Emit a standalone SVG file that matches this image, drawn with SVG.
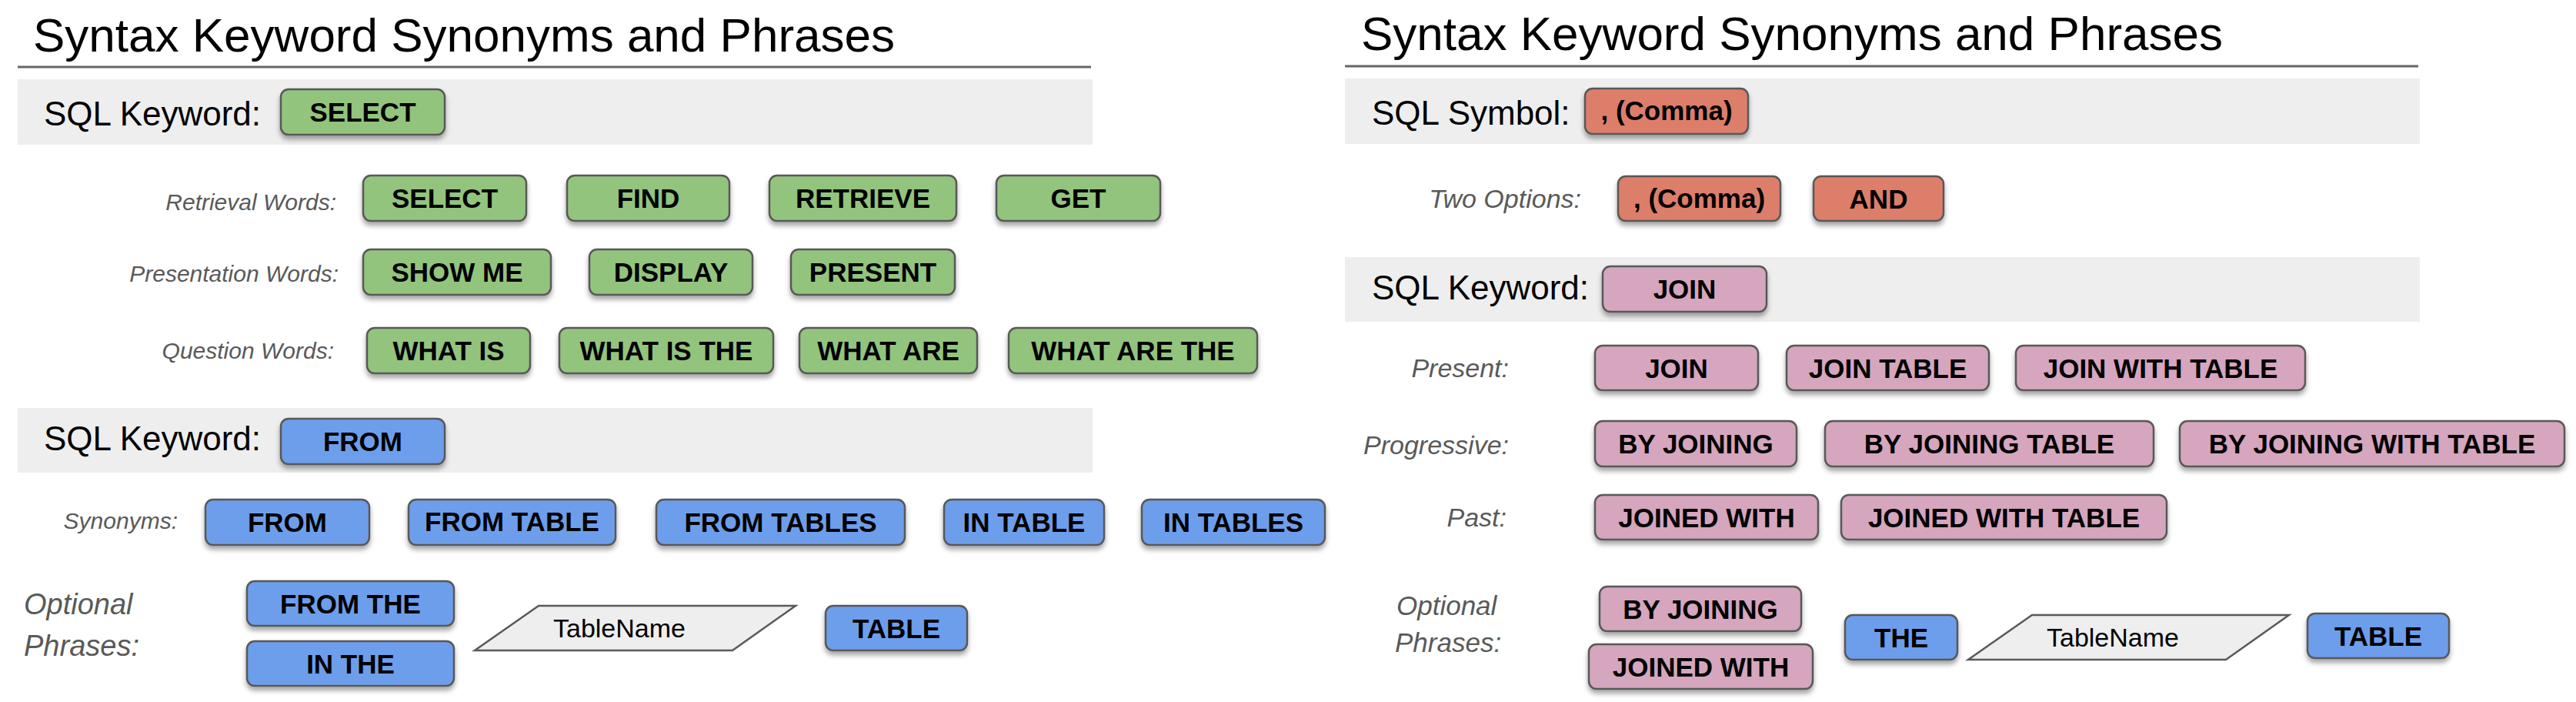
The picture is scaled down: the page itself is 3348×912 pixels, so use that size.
<svg xmlns="http://www.w3.org/2000/svg" width="3348" height="912" viewBox="0 0 3348 912">
<defs>
<filter id="sh" x="-10%" y="-20%" width="120%" height="160%">
<feDropShadow dx="0" dy="5" stdDeviation="3" flood-color="#000" flood-opacity="0.35"/>
</filter>
</defs>
<style>
.bg{fill:#ffffff}
.band{fill:#eeeeee}
.rule{stroke:#666666;stroke-width:3}
.title{font-family:"Liberation Sans",Arial,sans-serif;font-size:62px;fill:#000}
.hdr{font-family:"Liberation Sans",Arial,sans-serif;font-size:44px;fill:#000}
.lbl{font-family:"Liberation Sans",Arial,sans-serif;font-style:italic;font-size:30px;fill:#595959;text-anchor:end}
.lbl2{font-family:"Liberation Sans",Arial,sans-serif;font-style:italic;font-size:34px;fill:#595959;text-anchor:end}
.opt{font-family:"Liberation Sans",Arial,sans-serif;font-style:italic;fill:#595959}
.box{stroke:#595959;stroke-width:2.5;filter:url(#sh)}
.g{fill:#93c47d}
.b{fill:#6d9eeb}
.r{fill:#dd7e6b}
.p{fill:#d5a6bd}
.kw{font-family:"Liberation Sans",Arial,sans-serif;font-weight:bold;font-size:35px;fill:#000;text-anchor:middle}
.par{fill:#eeeeee;stroke:#595959;stroke-width:2.5}
.tn{font-family:"Liberation Sans",Arial,sans-serif;font-size:34px;fill:#000}
</style>
<rect class="bg" x="0" y="0" width="3348" height="912"/>

<g id="left-panel">
<text class="title" x="43" y="67">Syntax Keyword Synonyms and Phrases</text>
<line class="rule" x1="23" y1="87" x2="1418" y2="87"/>
<rect class="band" x="23" y="103" width="1397" height="85"/>
<text class="hdr" x="57" y="163">SQL Keyword:</text>
<rect class="band" x="23" y="530" width="1397" height="84"/>
<text class="hdr" x="57" y="585">SQL Keyword:</text>
<text class="lbl" x="437" y="273">Retrieval Words:</text>
<text class="lbl" x="440" y="366">Presentation Words:</text>
<text class="lbl" x="434" y="466">Question Words:</text>
<text class="lbl" x="231" y="687">Synonyms:</text>
<text class="opt" x="31" y="798" font-size="38">Optional</text>
<text class="opt" x="31" y="852" font-size="38">Phrases:</text>
</g>

<g id="right-panel">
<text class="title" x="1769" y="65">Syntax Keyword Synonyms and Phrases</text>
<line class="rule" x1="1748" y1="86" x2="3143" y2="86"/>
<rect class="band" x="1748" y="102" width="1397" height="85"/>
<text class="hdr" x="1783" y="162">SQL Symbol:</text>
<rect class="band" x="1748" y="334" width="1397" height="84"/>
<text class="hdr" x="1783" y="389">SQL Keyword:</text>
<text class="lbl2" x="2055" y="270">Two Options:</text>
<text class="lbl2" x="1961" y="490">Present:</text>
<text class="lbl2" x="1961" y="590">Progressive:</text>
<text class="lbl2" x="1958" y="684">Past:</text>
<text class="opt" x="1815" y="799" font-size="35">Optional</text>
<text class="opt" x="1813" y="847" font-size="35">Phrases:</text>
</g>

<g id="connectors"></g>

<g id="select-hdr"><rect class="box g" x="365" y="116" width="213" height="59" rx="10"/><text class="kw" x="471.5" y="158">SELECT</text></g>
<g id="select"><rect class="box g" x="472" y="228" width="212" height="59" rx="10"/><text class="kw" x="578" y="270">SELECT</text></g>
<g id="find"><rect class="box g" x="737" y="228" width="211" height="59" rx="10"/><text class="kw" x="842.5" y="270">FIND</text></g>
<g id="retrieve"><rect class="box g" x="1000" y="228" width="243" height="59" rx="10"/><text class="kw" x="1121.5" y="270">RETRIEVE</text></g>
<g id="get"><rect class="box g" x="1295" y="228" width="213" height="59" rx="10"/><text class="kw" x="1401.5" y="270">GET</text></g>
<g id="show-me"><rect class="box g" x="472" y="324" width="244" height="59" rx="10"/><text class="kw" x="594" y="366">SHOW ME</text></g>
<g id="display"><rect class="box g" x="766" y="324" width="212" height="59" rx="10"/><text class="kw" x="872" y="366">DISPLAY</text></g>
<g id="present"><rect class="box g" x="1028" y="324" width="213" height="59" rx="10"/><text class="kw" x="1134.5" y="366">PRESENT</text></g>
<g id="what-is"><rect class="box g" x="477" y="426" width="212" height="59" rx="10"/><text class="kw" x="583" y="468">WHAT IS</text></g>
<g id="what-is-the"><rect class="box g" x="727" y="426" width="278" height="59" rx="10"/><text class="kw" x="866" y="468">WHAT IS THE</text></g>
<g id="what-are"><rect class="box g" x="1039" y="426" width="231" height="59" rx="10"/><text class="kw" x="1154.5" y="468">WHAT ARE</text></g>
<g id="what-are-the"><rect class="box g" x="1311" y="426" width="323" height="59" rx="10"/><text class="kw" x="1472.5" y="468">WHAT ARE THE</text></g>

<g id="from-hdr"><rect class="box b" x="365" y="544" width="213" height="59" rx="10"/><text class="kw" x="471.5" y="586">FROM</text></g>
<g id="from"><rect class="box b" x="267" y="649" width="213" height="59" rx="10"/><text class="kw" x="373.5" y="691">FROM</text></g>
<g id="from-table"><rect class="box b" x="531" y="649" width="269" height="59" rx="10"/><text class="kw" x="665.5" y="689.5" font-size="30">FROM TABLE</text></g>
<g id="from-tables"><rect class="box b" x="853" y="649" width="323" height="59" rx="10"/><text class="kw" x="1014.5" y="691">FROM TABLES</text></g>
<g id="in-table"><rect class="box b" x="1227" y="649" width="208" height="59" rx="10"/><text class="kw" x="1331" y="691">IN TABLE</text></g>
<g id="in-tables"><rect class="box b" x="1484" y="649" width="238" height="59" rx="10"/><text class="kw" x="1603" y="691">IN TABLES</text></g>
<g id="from-the"><rect class="box b" x="321" y="755" width="269" height="58" rx="10"/><text class="kw" x="455.5" y="796.5">FROM THE</text></g>
<g id="in-the"><rect class="box b" x="321" y="833" width="269" height="58" rx="10"/><text class="kw" x="455.5" y="874.5">IN THE</text></g>
<g id="tablename-left"><polygon class="par" points="700,787 1034,787 952,845 617,845"/><text class="tn" x="719" y="828">TableName</text></g>
<g id="table-left"><rect class="box b" x="1073" y="787" width="184" height="58" rx="10"/><text class="kw" x="1165" y="828.5">TABLE</text></g>

<g id="comma-hdr"><rect class="box r" x="2060" y="115" width="212" height="59" rx="10"/><text class="kw" x="2166" y="156" font-size="31">, (Comma)</text></g>
<g id="comma"><rect class="box r" x="2103" y="229" width="211" height="58" rx="10"/><text class="kw" x="2208.5" y="270" font-size="31">, (Comma)</text></g>
<g id="and"><rect class="box r" x="2357" y="229" width="169" height="58" rx="10"/><text class="kw" x="2441.5" y="270.5">AND</text></g>

<g id="join-hdr"><rect class="box p" x="2083" y="346" width="213" height="59" rx="10"/><text class="kw" x="2189.5" y="388">JOIN</text></g>
<g id="join"><rect class="box p" x="2073" y="449" width="212" height="58" rx="10"/><text class="kw" x="2179" y="490.5">JOIN</text></g>
<g id="join-table"><rect class="box p" x="2322" y="449" width="263" height="58" rx="10"/><text class="kw" x="2453.5" y="490.5">JOIN TABLE</text></g>
<g id="join-with-table"><rect class="box p" x="2620" y="449" width="376" height="58" rx="10"/><text class="kw" x="2808" y="490.5">JOIN WITH TABLE</text></g>
<g id="by-joining"><rect class="box p" x="2073" y="547" width="262" height="59" rx="10"/><text class="kw" x="2204" y="589">BY JOINING</text></g>
<g id="by-joining-table"><rect class="box p" x="2372" y="547" width="427" height="59" rx="10"/><text class="kw" x="2585.5" y="589">BY JOINING TABLE</text></g>
<g id="by-joining-with-table"><rect class="box p" x="2833" y="547" width="500" height="59" rx="10"/><text class="kw" x="3083" y="589">BY JOINING WITH TABLE</text></g>
<g id="joined-with"><rect class="box p" x="2073" y="643" width="290" height="58" rx="10"/><text class="kw" x="2218" y="684.5">JOINED WITH</text></g>
<g id="joined-with-table"><rect class="box p" x="2393" y="643" width="423" height="58" rx="10"/><text class="kw" x="2604.5" y="684.5">JOINED WITH TABLE</text></g>
<g id="opt-by-joining"><rect class="box p" x="2079" y="762" width="262" height="58" rx="10"/><text class="kw" x="2210" y="803.5">BY JOINING</text></g>
<g id="opt-joined-with"><rect class="box p" x="2065" y="837" width="291" height="58" rx="10"/><text class="kw" x="2210.5" y="878.5">JOINED WITH</text></g>
<g id="the"><rect class="box b" x="2398" y="799" width="146" height="58" rx="10"/><text class="kw" x="2471" y="840.5">THE</text></g>
<g id="tablename-right"><polygon class="par" points="2641,799 2975,799 2893,857 2558,857"/><text class="tn" x="2660" y="840">TableName</text></g>
<g id="table-right"><rect class="box b" x="2999" y="797" width="184" height="58" rx="10"/><text class="kw" x="3091" y="838.5">TABLE</text></g>
</svg>
